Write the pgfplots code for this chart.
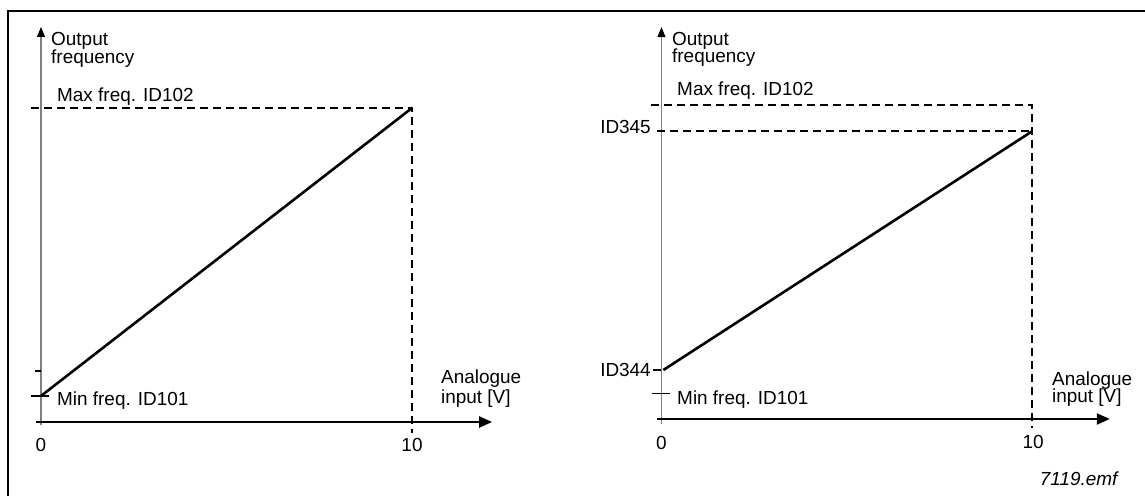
\documentclass[border=0pt]{standalone}
\usepackage{pgfplots}
\pgfplotsset{compat=1.18}
\usetikzlibrary{arrows.meta}
\usepackage{fontspec}
\setmainfont{Liberation Sans}
\tikzset{
  txt/.style={font=\fontsize{19}{19}\selectfont, inner sep=0pt},
  dsh/.style={line width=1.9bp, dash pattern=on 8bp off 5bp},
}
\pgfplotsset{
  dg/.style={hide axis, scale only axis, clip=false,
    xmin=-0.5, xmax=12.5, ymin=-5, ymax=130,
    height=423.9bp},
}
\begin{document}
\begin{tikzpicture}[x=1bp,y=1bp]
\useasboundingbox (0,0) rectangle (1145bp,496bp);
\draw[line width=2.2bp] (8bp,0bp) -- (8bp,485bp) -- (1145bp,485bp);
% ---------- left diagram ----------
\begin{axis}[dg, width=482.3bp, at={(22.45bp,58.3bp)}, anchor=south west]
\addplot[gray, line width=1.1bp, -{Triangle[length=10bp,width=8bp,black]}] coordinates {(0,-1) (0,125.8)};
\addplot[black, line width=2.2bp, -{Triangle[length=13bp,width=11bp]}] coordinates {(-0.13,0) (12.16,0)};
\addplot[black, dsh] coordinates {(-0.27,100) (10,100) (10,-3.5)};
\addplot[black, line width=2.6bp] coordinates {(0,8.3) (10,100)};
\addplot[black, line width=1.9bp] coordinates {(-0.27,8.3) (0.22,8.3)};
\addplot[black, line width=1.5bp] coordinates {(-0.16,16.2) (0,16.2)};
\node[txt, anchor=base west] at (axis cs:0.27,120.06) {Output};
\node[txt, anchor=base west] at (axis cs:0.27,114.3) {frequency};
\node[txt, anchor=base west] at (axis cs:0.431,102.2) {Max freq. ID102};
\node[txt, anchor=base west] at (axis cs:0.431,5.1) {Min freq. ID101};
\node[txt, anchor=center] at (axis cs:0,-7.17) {0};
\node[txt, anchor=center] at (axis cs:10,-7.3) {10};
\node[txt, anchor=base west] at (axis cs:10.78,12.4) {Analogue};
\node[txt, anchor=base west] at (axis cs:10.78,6.05) {input [V]};
\end{axis}
% ---------- right diagram ----------
\begin{axis}[dg, width=481.65bp, at={(642.95bp,61.3bp)}, anchor=south west]
\addplot[gray, line width=1.1bp, -{Triangle[length=10bp,width=8bp,black]}] coordinates {(0,-1.5) (0,124.8)};
\addplot[black, line width=2.2bp, -{Triangle[length=13bp,width=11bp]}] coordinates {(-0.12,0) (12.1,0)};
\addplot[black, dsh] coordinates {(-0.28,100) (10,100) (10,-3)};
\addplot[black, dsh] coordinates {(-0.12,91.6) (10,91.6)};
\addplot[black, line width=2.6bp] coordinates {(0.05,15.6) (10,91.6)};
\addplot[black, line width=1.2bp] coordinates {(-0.22,15.6) (0,15.6)};
\addplot[black, line width=1.2bp] coordinates {(-0.26,8.0) (0.23,8.0)};
\node[txt, anchor=base west] at (axis cs:0.283,119.1) {Output};
\node[txt, anchor=base west] at (axis cs:0.283,113.4) {frequency};
\node[txt, anchor=base west] at (axis cs:0.42,102.9) {Max freq. ID102};
\node[txt, anchor=east] at (axis cs:-0.284,93.0) {ID345};
\node[txt, anchor=east] at (axis cs:-0.284,15.6) {ID344};
\node[txt, anchor=base west] at (axis cs:0.42,4.46) {Min freq. ID101};
\node[txt, anchor=center] at (axis cs:0,-7.64) {0};
\node[txt, anchor=center] at (axis cs:10.03,-7.3) {10};
\node[txt, anchor=base west] at (axis cs:10.54,10.8) {Analogue};
\node[txt, anchor=base west] at (axis cs:10.54,5.1) {input [V]};
\node[txt, anchor=base west, font=\fontsize{19}{19}\selectfont\itshape] at (axis cs:10.21,-21.3) {7119.emf};
\end{axis}
\end{tikzpicture}
\end{document}
